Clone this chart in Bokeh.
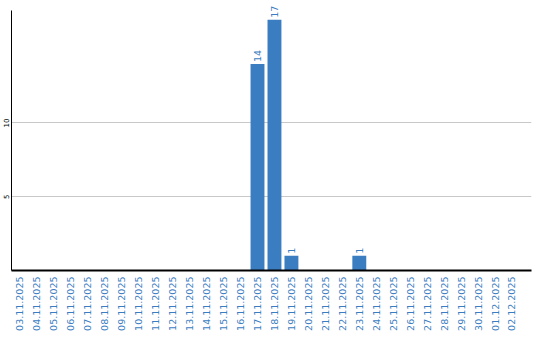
from bokeh.plotting import figure
from bokeh.models import ColumnDataSource, Range1d, FixedTicker
from bokeh.core.properties import value
from bokeh.embed import file_html
from bokeh.resources import INLINE
from math import pi

dates = ["03.11.2025", "04.11.2025", "05.11.2025", "06.11.2025", "07.11.2025",
         "08.11.2025", "09.11.2025", "10.11.2025", "11.11.2025", "12.11.2025",
         "13.11.2025", "14.11.2025", "15.11.2025", "16.11.2025", "17.11.2025",
         "18.11.2025", "19.11.2025", "20.11.2025", "21.11.2025", "22.11.2025",
         "23.11.2025", "24.11.2025", "25.11.2025", "26.11.2025", "27.11.2025",
         "28.11.2025", "29.11.2025", "30.11.2025", "01.12.2025", "02.12.2025"]
counts = [0, 0, 0, 0, 0, 0, 0, 0, 0, 0, 0, 0, 0, 0, 14,
          17, 1, 0, 0, 0, 1, 0, 0, 0, 0, 0, 0, 0, 0, 0]
y_ticks = [5, 10]

BLUE = "#3b7dc1"

xs = list(range(len(dates)))
src = ColumnDataSource(dict(x=xs, y=counts))
nz = [i for i, c in enumerate(counts) if c]
lsrc = ColumnDataSource(dict(x=[xs[i] for i in nz], y=[counts[i] for i in nz],
                             lbl=[str(counts[i]) for i in nz]))

p = figure(width=540, height=340, output_backend="svg", toolbar_location=None,
           x_range=Range1d(-0.5, 30.15), y_range=Range1d(0, 18.3),
           min_border_left=10, min_border_right=9, min_border_top=0, min_border_bottom=70)
p.outline_line_color = None
p.background_fill_color = "white"
p.border_fill_color = "white"

p.vbar(x="x", top="y", width=0.82, source=src, color=BLUE, line_color=None)

p.text(x="x", y="y", text="lbl", source=lsrc, angle=pi/2,
       text_color=BLUE, text_font_size="9.5px", text_font=value("DejaVu Sans"),
       text_align="left", text_baseline="middle", x_offset=0, y_offset=-2)

p.xgrid.grid_line_color = None
p.ygrid.grid_line_color = "#c8c8c8"
p.ygrid.ticker = FixedTicker(ticks=y_ticks)

p.yaxis.ticker = FixedTicker(ticks=y_ticks)
p.yaxis.bounds = (0, 17.6)
p.yaxis.major_label_orientation = "parallel"
p.yaxis.major_label_text_font_size = "7px"
p.yaxis.major_label_text_font = "DejaVu Sans"
p.yaxis.major_label_text_color = "black"
p.yaxis.major_tick_out = 0
p.yaxis.major_tick_in = 0
p.yaxis.minor_tick_out = 0
p.yaxis.minor_tick_in = 0
p.yaxis.major_label_standoff = 2
p.yaxis.axis_line_color = "black"
p.yaxis.axis_line_width = 1

p.xaxis.ticker = FixedTicker(ticks=xs)
p.xaxis.major_label_overrides = {i: d for i, d in enumerate(dates)}
p.xaxis.major_label_orientation = pi/2
p.xaxis.major_label_text_font_size = "9.5px"
p.xaxis.major_label_text_font = "DejaVu Sans"
p.xaxis.major_label_text_color = BLUE
p.xaxis.major_tick_out = 0
p.xaxis.major_tick_in = 0
p.xaxis.minor_tick_out = 0
p.xaxis.minor_tick_in = 0
p.xaxis.major_label_standoff = 6
p.xaxis.axis_line_color = "black"
p.xaxis.axis_line_width = 2

open("out.html", "w").write(file_html(p, INLINE))
